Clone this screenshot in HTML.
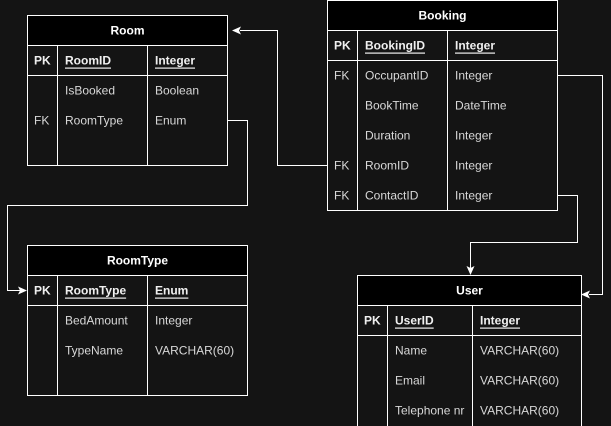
<!DOCTYPE html>
<html><head><style>
html,body{margin:0;padding:0;background:#141414;}
svg{display:block;}
text{font-family:"Liberation Sans",Arial,sans-serif;font-size:12px;fill:#d8d8d8;dominant-baseline:central;}
.h{fill:#fff;text-anchor:middle;font-weight:bold;}
.b{font-weight:bold;fill:#f0f0f0;text-decoration:underline;}
.pk{font-weight:bold;fill:#f0f0f0;}
</style></head><body>
<svg width="611" height="426" viewBox="0 0 611 426" xmlns="http://www.w3.org/2000/svg">
<rect width="611" height="426" fill="#141414"/>
<g fill="none" stroke="#fff" stroke-width="1">
<!-- connectors -->
<polyline points="327.5,165.5 277.5,165.5 277.5,30.5 240,30.5"/>
<polyline points="227.5,120.5 247.5,120.5 247.5,205.5 7.5,205.5 7.5,290.5 20,290.5"/>
<polyline points="557.5,195.5 577.5,195.5 577.5,242.5 470.5,242.5 470.5,268"/>
<polyline points="557.5,75.5 602.5,75.5 602.5,294.5 589,294.5"/>
</g>
<g fill="#fff">
<polygon points="232,30.5 241,26.5 239,30.5 241,34.5"/>
<polygon points="27,290.5 18,286.5 20,290.5 18,294.5"/>
<polygon points="470.5,275 466.5,266 470.5,268 474.5,266"/>
<polygon points="581,294.5 590,290.5 588,294.5 590,298.5"/>
</g>

<!-- Room -->
<rect x="27.5" y="15.5" width="200" height="30" fill="#000" stroke="#fff"/>
<rect x="27.5" y="45.5" width="200" height="120" fill="#141414" stroke="#fff"/>
<g stroke="#fff"><line x1="27.5" y1="75.5" x2="227.5" y2="75.5"/><line x1="57.5" y1="45.5" x2="57.5" y2="165.5"/><line x1="147.5" y1="45.5" x2="147.5" y2="165.5"/></g>
<text class="h" x="127.5" y="30.5">Room</text>
<text class="pk" x="34" y="60.5">PK</text><text class="b" x="65" y="60.5">RoomID</text><text class="b" x="155" y="60.5">Integer</text>
<text x="65" y="90.5">IsBooked</text><text x="155" y="90.5">Boolean</text>
<text x="34" y="120.5">FK</text><text x="65" y="120.5">RoomType</text><text x="155" y="120.5">Enum</text>

<!-- Booking -->
<rect x="327.5" y="0.5" width="230" height="30" fill="#000" stroke="#fff"/>
<rect x="327.5" y="30.5" width="230" height="180" fill="#141414" stroke="#fff"/>
<g stroke="#fff"><line x1="327.5" y1="60.5" x2="557.5" y2="60.5"/><line x1="357.5" y1="30.5" x2="357.5" y2="210.5"/><line x1="447.5" y1="30.5" x2="447.5" y2="210.5"/></g>
<text class="h" x="442.5" y="15.5">Booking</text>
<text class="pk" x="334" y="45.5">PK</text><text class="b" x="365" y="45.5">BookingID</text><text class="b" x="455" y="45.5">Integer</text>
<text x="334" y="75.5">FK</text><text x="365" y="75.5">OccupantID</text><text x="455" y="75.5">Integer</text>
<text x="365" y="105.5">BookTime</text><text x="455" y="105.5">DateTime</text>
<text x="365" y="135.5">Duration</text><text x="455" y="135.5">Integer</text>
<text x="334" y="165.5">FK</text><text x="365" y="165.5">RoomID</text><text x="455" y="165.5">Integer</text>
<text x="334" y="195.5">FK</text><text x="365" y="195.5">ContactID</text><text x="455" y="195.5">Integer</text>

<!-- RoomType -->
<rect x="27.5" y="245.5" width="220" height="30" fill="#000" stroke="#fff"/>
<rect x="27.5" y="275.5" width="220" height="120" fill="#141414" stroke="#fff"/>
<g stroke="#fff"><line x1="27.5" y1="305.5" x2="247.5" y2="305.5"/><line x1="57.5" y1="275.5" x2="57.5" y2="395.5"/><line x1="147.5" y1="275.5" x2="147.5" y2="395.5"/></g>
<text class="h" x="137.5" y="260.5">RoomType</text>
<text class="pk" x="34" y="290.5">PK</text><text class="b" x="65" y="290.5">RoomType</text><text class="b" x="155" y="290.5">Enum</text>
<text x="65" y="320.5">BedAmount</text><text x="155" y="320.5">Integer</text>
<text x="65" y="350.5">TypeName</text><text x="155" y="350.5">VARCHAR(60)</text>

<!-- User -->
<rect x="357.5" y="275.5" width="224" height="30" fill="#000" stroke="#fff"/>
<rect x="357.5" y="305.5" width="224" height="125" fill="#141414" stroke="#fff"/>
<g stroke="#fff"><line x1="357.5" y1="335.5" x2="581.5" y2="335.5"/><line x1="387.5" y1="305.5" x2="387.5" y2="430"/><line x1="472.5" y1="305.5" x2="472.5" y2="430"/></g>
<text class="h" x="469.5" y="290.5">User</text>
<text class="pk" x="364" y="320.5">PK</text><text class="b" x="395" y="320.5">UserID</text><text class="b" x="480" y="320.5">Integer</text>
<text x="395" y="350.5">Name</text><text x="480" y="350.5">VARCHAR(60)</text>
<text x="395" y="380.5">Email</text><text x="480" y="380.5">VARCHAR(60)</text>
<text x="395" y="410.5">Telephone nr</text><text x="480" y="410.5">VARCHAR(60)</text>
</svg>
</body></html>
